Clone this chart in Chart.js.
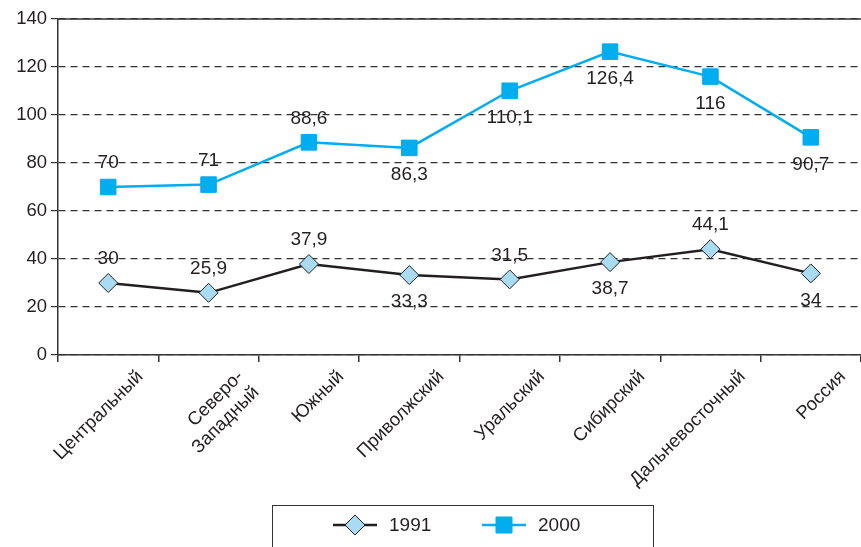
<!DOCTYPE html>
<html>
<head>
<meta charset="utf-8">
<script src="https://cdn.jsdelivr.net/npm/chart.js@4/dist/chart.umd.min.js"></script>
<style>
    html, body { margin: 0; padding: 0; background: #fff; }
</style>
</head>
<body>
<canvas id="grafico" width="861" height="547"></canvas>
<script>
const regiones = ['Центральный', ['Северо-', 'Западный'], 'Южный', 'Приволжский', 'Уральский', 'Сибирский', 'Дальневосточный', 'Россия'];
const valores1991 = [30, 25.9, 37.9, 33.3, 31.5, 38.7, 44.1, 34];
const valores2000 = [70, 71, 88.6, 86.3, 110.1, 126.4, 116, 90.7];
const anios = ['1991', '2000'];

const fuente = 'Liberation Sans, Arial, sans-serif';
const tinta = '#231f20';

// etiquetas de valores: -1 encima del punto, 1 debajo
const etiquetas = {
    id: 'etiquetas',
    afterDatasetsDraw(chart) {
        const ctx = chart.ctx;
        ctx.save();
        ctx.font = '19px ' + fuente;
        ctx.fillStyle = tinta;
        ctx.textAlign = 'center';
        ctx.textBaseline = 'middle';
        chart.data.datasets.forEach((ds, i) => {
            const meta = chart.getDatasetMeta(i);
            meta.data.forEach((p, j) => {
                const lado = ds.lado[j];
                const dy = lado < 0 ? -24 : 27;
                ctx.fillText(String(ds.data[j]).replace('.', ','), p.x, p.y + dy);
            });
        });
        ctx.restore();
    }
};

// linea superior del marco y leyenda con recuadro
const marco = {
    id: 'marco',
    afterDraw(chart) {
        const ctx = chart.ctx;
        const a = chart.chartArea;
        ctx.save();
        ctx.strokeStyle = '#333';
        ctx.lineWidth = 1.5;
        ctx.beginPath();
        ctx.moveTo(a.left, a.top);
        ctx.lineTo(a.right, a.top);
        ctx.stroke();

        // leyenda
        ctx.lineWidth = 1;
        ctx.strokeRect(272.5, 505.5, 381, 60);
        const y = 525;
        chart.data.datasets.forEach((ds, i) => {
            const x0 = i === 0 ? 333 : 482;
            ctx.strokeStyle = ds.borderColor;
            ctx.lineWidth = ds.borderWidth;
            ctx.beginPath();
            ctx.moveTo(x0, y);
            ctx.lineTo(x0 + 44, y);
            ctx.stroke();
            ctx.fillStyle = ds.pointBackgroundColor;
            ctx.strokeStyle = ds.pointBorderColor;
            ctx.lineWidth = 1;
            ctx.beginPath();
            const cx = x0 + 22;
            if (ds.pointStyle === 'rectRot') {
                ctx.moveTo(cx - 10, y);
                ctx.lineTo(cx, y - 10);
                ctx.lineTo(cx + 10, y);
                ctx.lineTo(cx, y + 10);
                ctx.closePath();
            } else {
                ctx.rect(cx - 8, y - 8, 16, 16);
            }
            ctx.fill();
            ctx.stroke();
            ctx.fillStyle = tinta;
            ctx.font = '19px ' + fuente;
            ctx.textAlign = 'left';
            ctx.textBaseline = 'middle';
            ctx.fillText(ds.label, x0 + 56, y + 1);
        });
        ctx.restore();
    }
};

new Chart('grafico', {
    type: 'line',
    data: {
        labels: regiones,
        datasets: [{
            label: anios[0],
            data: valores1991,
            lado: [-1, -1, -1, 1, -1, 1, -1, 1],
            borderColor: '#231f20',
            borderWidth: 2.5,
            pointStyle: 'rectRot',
            pointRadius: 9.5,
            pointBackgroundColor: '#a9dcf3',
            pointBorderColor: '#231f20',
            pointBorderWidth: 1,
            tension: 0
        }, {
            label: anios[1],
            data: valores2000,
            lado: [-1, -1, -1, 1, 1, 1, 1, 1],
            borderColor: '#00adee',
            borderWidth: 2.5,
            pointStyle: 'rect',
            pointRadius: 11,
            pointBackgroundColor: '#00adee',
            pointBorderColor: '#00adee',
            pointBorderWidth: 1,
            tension: 0
        }]
    },
    options: {
        responsive: false,
        animation: false,
        layout: { autoPadding: false, padding: { top: 19, left: 0, right: 0, bottom: 0 } },
        plugins: {
            legend: { display: false },
            tooltip: { enabled: false }
        },
        scales: {
            x: {
                offset: true,
                afterFit: (s) => {
                    s.height = 192;
                    s.paddingLeft = 0;
                    s.paddingRight = 0;
                },
                grid: {
                    offset: true,
                    drawOnChartArea: false,
                    drawTicks: true,
                    tickLength: 7,
                    color: '#333',
                    lineWidth: 1.5
                },
                border: { color: '#333', width: 1.5 },
                ticks: {
                    color: tinta,
                    font: { family: fuente, size: 18.5 },
                    minRotation: 45,
                    maxRotation: 45,
                    labelOffset: 32,
                    padding: 4,
                    autoSkip: false
                }
            },
            y: {
                min: 0,
                max: 140,
                afterFit: (s) => { s.width = 58; },
                grid: {
                    color: '#333',
                    lineWidth: 1.2,
                    tickLength: 7,
                    tickColor: '#333'
                },
                border: { color: '#333', width: 1.5, dash: [7, 5] },
                ticks: {
                    stepSize: 20,
                    color: tinta,
                    font: { family: fuente, size: 18.5 },
                    padding: 4
                }
            }
        }
    },
    plugins: [etiquetas, marco]
});
</script>
</body>
</html>
